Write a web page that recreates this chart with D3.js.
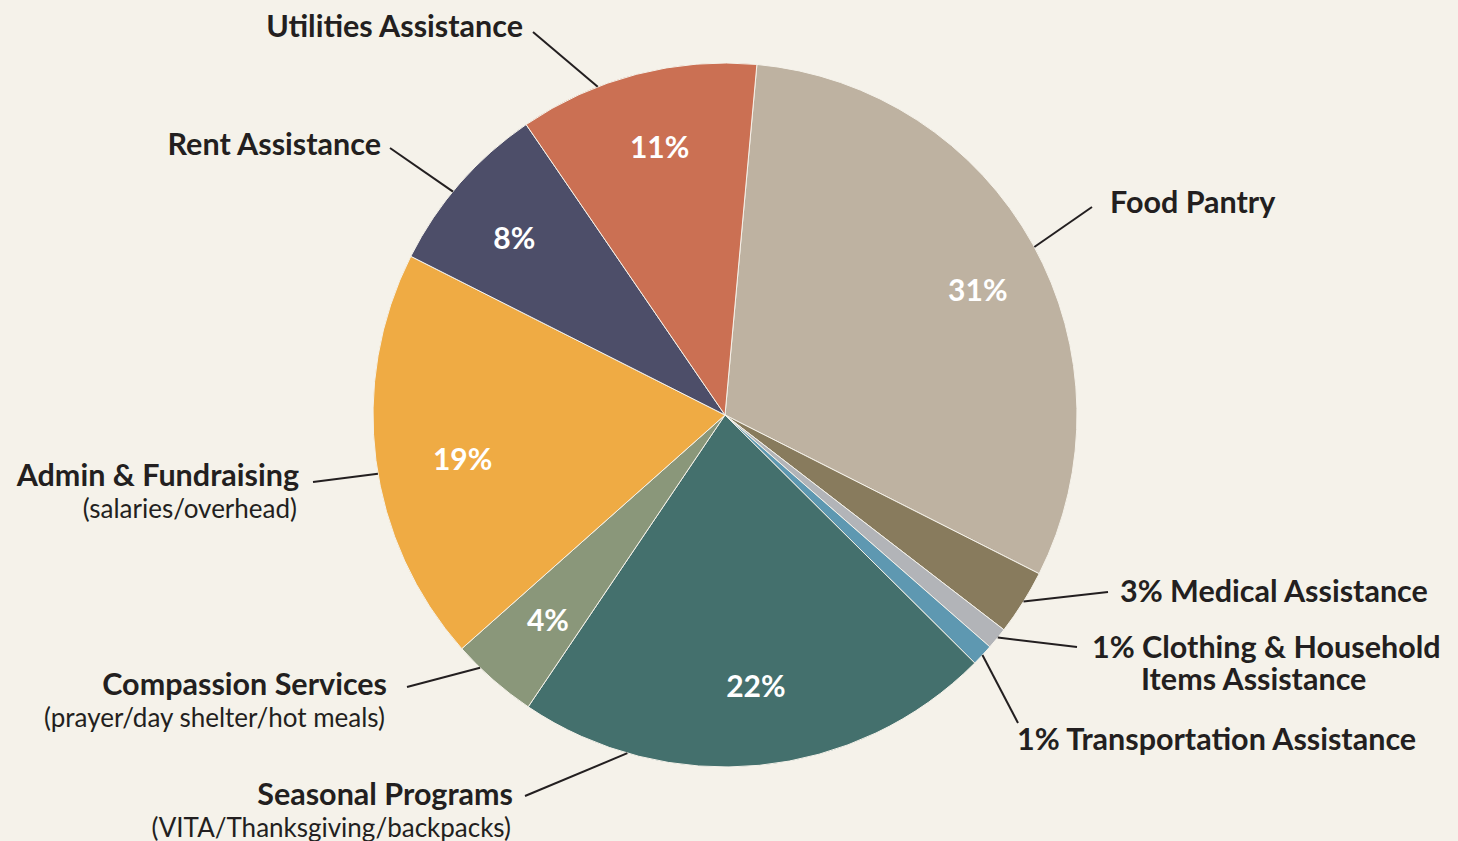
<!DOCTYPE html>
<html>
<head>
<meta charset="utf-8">
<script src="https://cdn.jsdelivr.net/npm/d3@7"></script>
<style>
  html, body { margin: 0; padding: 0; background: #F5F2EA; }
  svg { display: block; }
  .lbl { font-family: Lato, "Open Sans", sans-serif; fill: #231F20; }
  .pct { font-family: Lato, "Open Sans", sans-serif; font-weight: 700; fill: #fff; }
</style>
</head>
<body>
<div id="chart"></div>
<script>
// slices, clockwise starting just right of 12 o'clock
var categories = ["Food Pantry", "Medical Assistance", "Clothing & Household Items Assistance",
                  "Transportation Assistance", "Seasonal Programs", "Compassion Services",
                  "Admin & Fundraising", "Rent Assistance", "Utilities Assistance"]
var values = [31, 3, 1, 1, 22, 4, 19, 8, 11]
var colors = ["#BEB2A1", "#887B5D", "#B2B4B8", "#5E98B1", "#44706D", "#8A977A", "#EFAB44", "#4D4E69", "#CB7053"]
var showPct = [true, false, false, false, true, true, true, true, true]

// label text lines (bold first line, optional plain sub line)
var labelMain = [["Food Pantry"], ["3% Medical Assistance"], ["1% Clothing & Household", "Items Assistance"],
                 ["1% Transportation Assistance"], ["Seasonal Programs"], ["Compassion Services"],
                 ["Admin & Fundraising"], ["Rent Assistance"], ["Utilities Assistance"]]
var labelSub = ["", "", "", "", "(VITA/Thanksgiving/backpacks)", "(prayer/day shelter/hot meals)",
                "(salaries/overhead)", "", ""]

var width = 1458, height = 841
var cx = 725, cy = 415, radius = 352
var startDeg = 5.2

// annotation layout: where the leader leaves the pie, leader end, text anchor, % label spot
var layout = [
  {deg: 61.5,  end: [1092, 207], tx: 1110, ty: 213, anchor: "start", pDeg: 63.7, pR: 282},
  {deg: 122,   end: [1108, 592], tx: 1120, ty: 602, anchor: "start"},
  {deg: 129.2, end: [1077, 647], tx: 1092, ty: 658, anchor: "start", tx2: 1141},
  {deg: 133,   end: [1018, 723], tx: 1017, ty: 750, anchor: "start"},
  {deg: 196.1, end: [525, 796],  tx: 513,  ty: 805, anchor: "end", pDeg: 173.5, pR: 273},
  {deg: 224.1, end: [407, 687],  tx: 387,  ty: 695, anchor: "end", pDeg: 220.8, pR: 271},
  {deg: 260.4, end: [313, 482],  tx: 299,  ty: 486, anchor: "end", pDeg: 260.5, pR: 266},
  {deg: 309.4, end: [390, 148],  tx: 381,  ty: 155, anchor: "end", pDeg: 310,   pR: 275},
  {deg: 338.8, end: [533, 32],   tx: 523,  ty: 37,  anchor: "end", pDeg: 346.3, pR: 276}
]

var svg = d3.select("#chart").append("svg")
    .attr("width", width)
    .attr("height", height)

svg.append("rect").attr("width", width).attr("height", height).attr("fill", "#F5F2EA")

var data = categories.map(function(c, i) { return {name: c, value: values[i], i: i} })

var rad = Math.PI / 180
var pie = d3.pie().sort(null).value(function(d) { return d.value })
    .startAngle(startDeg * rad).endAngle((startDeg + 360) * rad)

var arcs = pie(data)
var arc = d3.arc().innerRadius(0).outerRadius(radius)

function polar(deg, r) {
  return [cx + r * Math.sin(deg * rad), cy - r * Math.cos(deg * rad)]
}

var g = svg.append("g").attr("transform", "translate(" + cx + "," + cy + ")")

g.selectAll("path.slice").data(arcs)
  .enter().append("path")
  .attr("class", "slice")
  .attr("d", arc)
  .attr("fill", function(d) { return colors[d.data.i] })
  .attr("stroke", "#F5F2EA")
  .attr("stroke-width", 1)

svg.selectAll("text.pct").data(arcs.filter(function(d) { return showPct[d.data.i] }))
  .enter().append("text")
  .attr("class", "pct")
  .attr("text-anchor", "middle")
  .attr("dy", "0.36em")
  .attr("font-size", 30)
  .attr("transform", function(d) {
    var l = layout[d.data.i]
    return "translate(" + polar(l.pDeg, l.pR) + ")"
  })
  .text(function(d) { return d.data.value + "%" })

// leader lines
svg.selectAll("line.leader").data(layout)
  .enter().append("line")
  .attr("class", "leader")
  .attr("x1", function(d) { return polar(d.deg, radius)[0] })
  .attr("y1", function(d) { return polar(d.deg, radius)[1] })
  .attr("x2", function(d) { return d.end[0] })
  .attr("y2", function(d) { return d.end[1] })
  .attr("stroke", "#231F20")
  .attr("stroke-width", 2)

// labels
layout.forEach(function(l, i) {
  var lines = labelMain[i]
  lines.forEach(function(t, k) {
    svg.append("text")
      .attr("class", "lbl")
      .attr("x", k == 0 ? l.tx : (l.tx2 || l.tx))
      .attr("y", l.ty + k * 32)
      .attr("text-anchor", l.anchor)
      .attr("font-size", 30.5)
      .attr("font-weight", 700)
      .text(t)
  })
  if (labelSub[i] != "") {
    svg.append("text")
      .attr("class", "lbl")
      .attr("x", l.tx - 2)
      .attr("y", l.ty + 32)
      .attr("text-anchor", l.anchor)
      .attr("font-size", 26)
      .attr("font-weight", 400)
      .text(labelSub[i])
  }
})
</script>
</body>
</html>
